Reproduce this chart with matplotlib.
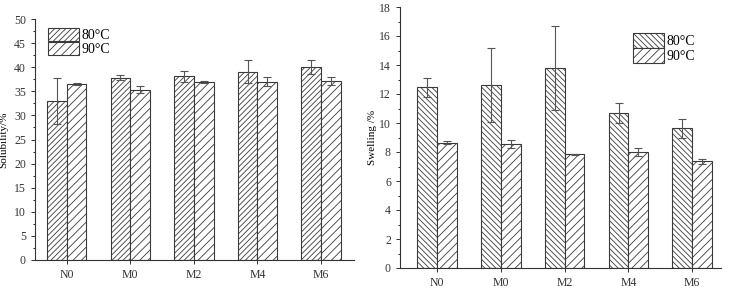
import matplotlib.pyplot as plt
from matplotlib.patches import Patch
import numpy as np

plt.rcParams['font.family'] = ['Liberation Serif', 'DejaVu Serif']
plt.rcParams['hatch.linewidth'] = 0.6
plt.rcParams['hatch.color'] = '#333333'

categories = ["N0", "M0", "M2", "M4", "M6"]
series = ["80°C", "90°C"]

# solubility (%)
sol_80 = [33.0, 37.8, 38.1, 39.1, 40.0]
sol_80_err = [4.7, 0.5, 1.2, 2.4, 1.4]
sol_90 = [36.6, 35.3, 37.0, 37.0, 37.1]
sol_90_err = [0.2, 0.7, 0.2, 0.9, 0.8]

# swelling (%)
sw_80 = [12.45, 12.6, 13.8, 10.7, 9.65]
sw_80_err = [0.65, 2.55, 2.9, 0.7, 0.65]
sw_90 = [8.65, 8.55, 7.85, 8.0, 7.35]
sw_90_err = [0.1, 0.3, 0.03, 0.3, 0.2]

W, H = 734, 289
fig = plt.figure(figsize=(W / 100, H / 100), dpi=100)
ax1 = fig.add_axes([35 / W, (H - 260) / H, (354 - 35) / W, (260 - 19) / H])
ax2 = fig.add_axes([400 / W, (H - 268) / H, (721 - 400) / W, (268 - 7) / H])

x = np.arange(len(categories))
bw = 0.31
edge = '#3a3a3a'
err_kw = dict(ecolor='#555555', elinewidth=0.8, capsize=3, capthick=0.8)


def draw(ax, v1, e1, v2, e2, h1, h2, ylim, major, minor, ylabel, labx, legloc, hh):
    ax.bar(x - bw / 2, v1, bw, yerr=e1, color='white', edgecolor=edge,
           hatch=h1, linewidth=0.8, error_kw=err_kw)
    ax.bar(x + bw / 2, v2, bw, yerr=e2, color='white', edgecolor=edge,
           hatch=h2, linewidth=0.8, error_kw=err_kw)
    ax.set_ylim(*ylim)
    ax.set_yticks(np.arange(ylim[0], ylim[1] + 0.01, major))
    ax.set_yticks(np.arange(ylim[0], ylim[1] + 0.01, minor), minor=True)
    ax.set_xticks(x)
    ax.set_xticklabels(categories)
    ax.set_ylabel(ylabel, fontsize=8)
    ax.yaxis.set_label_coords(labx, 0.5)
    ax.tick_params(direction='out', labelsize=8.5, length=3, width=0.7, colors='#333333')
    ax.tick_params(which='minor', direction='out', length=1.8, width=0.6)
    ax.tick_params(axis='x', which='minor', bottom=False)
    for s in ['top', 'right']:
        ax.spines[s].set_visible(False)
    for s in ['left', 'bottom']:
        ax.spines[s].set_color('#333333')
        ax.spines[s].set_linewidth(0.8)
    handles = [Patch(facecolor='white', edgecolor=edge, hatch=h, linewidth=0.8, label=lab)
               for h, lab in zip([h1, h2], series)]
    ax.legend(handles=handles, loc='upper left', bbox_to_anchor=legloc, frameon=False,
              fontsize=10, handlelength=2.2, handleheight=hh, handletextpad=0.2,
              labelspacing=0.0, borderaxespad=0, borderpad=0)


draw(ax1, sol_80, sol_80_err, sol_90, sol_90_err, '//////', '////',
     (0, 50), 5, 2.5, 'Solubility/%', -0.085, (0.041, 0.963), 1.05)
ax1.set_xlim(-0.5, 4.52)

draw(ax2, sw_80, sw_80_err, sw_90, sw_90_err, '\\\\\\\\\\\\', '////',
     (0, 18), 2, 1, 'Swelling /%', -0.072, (0.726, 0.900), 1.25)
ax2.set_xlim(-0.58, 4.45)

fig.savefig('out.png', dpi=100)
